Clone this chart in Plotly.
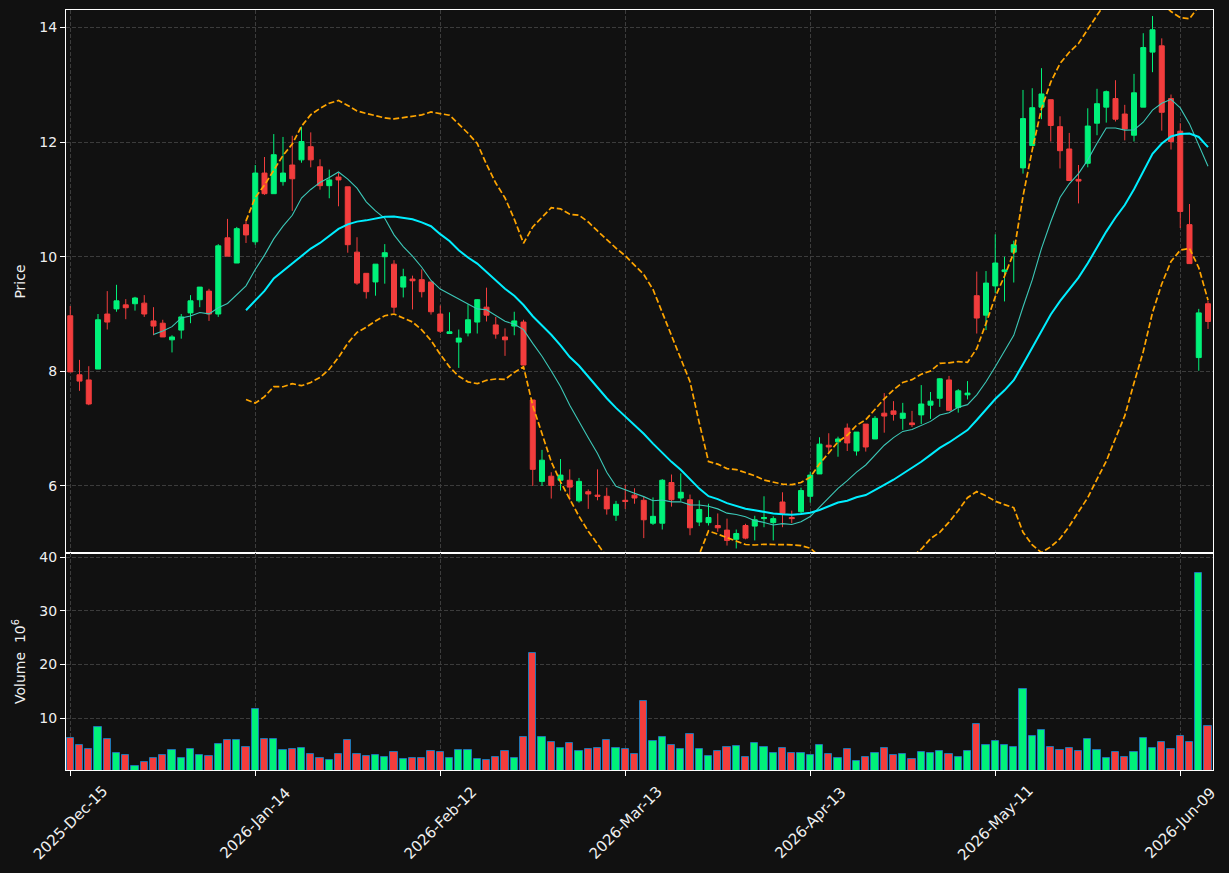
import pandas as pd
import plotly.graph_objects as go

# ---------------- data ----------------
HOLIDAYS = ["2025-12-25", "2026-01-01", "2026-01-19", "2026-02-16", "2026-04-03", "2026-05-25"]
dates = pd.bdate_range("2025-12-15", "2026-06-12", freq="C", holidays=HOLIDAYS)

open_ = [8.97, 7.94, 7.85, 8.04, 9.00, 9.09, 9.16, 9.18, 9.19, 8.88,
         8.84, 8.55, 8.72, 9.02, 9.25, 9.40, 9.00, 10.33, 9.89, 10.56,
         10.26, 11.46, 11.10, 11.31, 11.60, 11.69, 11.92, 11.57, 11.24, 11.39,
         11.22, 10.08, 9.71, 9.56, 10.00, 9.87, 9.47, 9.61, 9.60, 9.56,
         9.00, 8.66, 8.51, 8.67, 8.86, 9.12, 8.81, 8.60, 8.79, 8.86,
         7.50, 6.08, 6.17, 6.10, 6.10, 5.74, 5.90, 5.84, 5.82, 5.49,
         5.75, 5.84, 5.75, 5.35, 5.35, 6.06, 5.79, 5.76, 5.37, 5.36,
         5.31, 5.23, 5.07, 5.31, 5.30, 5.43, 5.36, 5.72, 5.45, 5.55,
         5.82, 6.21, 6.71, 6.77, 7.01, 6.61, 7.08, 6.82, 7.27, 7.31,
         7.18, 7.10, 7.24, 7.41, 7.53, 7.85, 7.37, 7.59, 9.32, 8.98,
         9.49, 9.74, 10.08, 11.55, 11.94, 12.61, 12.74, 12.27, 11.88, 11.35,
         11.63, 12.33, 12.61, 12.76, 12.49, 12.12, 12.61, 13.57, 13.68, 12.76,
         12.19, 10.56, 8.24, 9.18]
high_ = [9.14, 8.20, 8.09, 9.00, 9.40, 9.51, 9.26, 9.30, 9.33, 9.12,
         8.90, 8.63, 9.00, 9.33, 9.47, 9.44, 10.22, 10.66, 10.52, 10.64,
         11.60, 11.74, 12.14, 12.09, 12.11, 12.27, 12.17, 11.70, 11.52, 11.46,
         11.22, 10.34, 9.71, 9.87, 10.22, 9.94, 9.79, 9.67, 9.78, 9.56,
         9.15, 9.03, 8.73, 9.17, 9.26, 9.46, 8.95, 8.75, 9.04, 8.90,
         7.50, 6.63, 6.24, 6.47, 6.29, 6.14, 5.94, 6.29, 5.97, 5.74,
         6.02, 5.96, 5.82, 5.80, 6.12, 6.20, 6.22, 5.85, 5.75, 5.69,
         5.52, 5.43, 5.24, 5.34, 5.48, 5.82, 5.47, 5.89, 5.57, 5.97,
         6.25, 6.85, 6.92, 6.86, 7.09, 6.94, 7.08, 7.22, 7.62, 7.48,
         7.45, 7.31, 7.76, 7.64, 7.88, 7.92, 7.69, 7.83, 9.74, 9.75,
         10.39, 10.00, 10.28, 12.91, 12.94, 13.29, 12.74, 12.45, 12.16, 11.60,
         12.59, 12.93, 12.90, 13.08, 12.65, 13.19, 13.90, 14.20, 13.81, 12.83,
         12.33, 10.92, 9.09, 9.23]
low_ = [7.99, 7.66, 7.41, 8.04, 8.73, 9.04, 8.91, 9.06, 8.95, 8.63,
        8.60, 8.33, 8.57, 8.84, 9.12, 8.88, 8.95, 10.01, 9.89, 10.24,
        10.21, 11.08, 11.10, 11.24, 10.80, 11.64, 11.56, 11.17, 11.02, 10.88,
        10.07, 9.51, 9.27, 9.32, 9.53, 9.02, 9.29, 9.08, 9.29, 8.99,
        8.67, 8.66, 8.06, 8.61, 8.66, 8.87, 8.57, 8.27, 8.63, 8.11,
        6.00, 6.00, 5.78, 5.92, 5.75, 5.71, 5.60, 5.75, 5.50, 5.39,
        5.60, 5.69, 5.09, 5.32, 5.24, 5.64, 5.74, 5.14, 5.30, 5.31,
        5.20, 4.96, 4.91, 5.07, 5.05, 5.28, 5.05, 5.28, 5.35, 5.52,
        5.71, 6.21, 6.58, 6.51, 6.61, 6.53, 6.60, 6.82, 6.93, 7.14,
        6.98, 7.03, 7.08, 7.17, 7.38, 7.32, 7.28, 7.51, 8.66, 8.72,
        9.37, 9.22, 9.55, 11.45, 11.94, 12.40, 12.01, 11.54, 11.33, 10.93,
        11.56, 12.12, 12.34, 12.36, 12.03, 12.01, 12.61, 13.22, 12.20, 11.87,
        10.50, 9.88, 8.01, 8.74]
close_ = [7.99, 7.83, 7.43, 8.90, 8.86, 9.23, 9.11, 9.28, 9.00, 8.79,
          8.60, 8.60, 8.95, 9.23, 9.47, 9.00, 10.19, 10.01, 10.49, 10.38,
          11.46, 11.10, 11.78, 11.46, 11.36, 12.01, 11.69, 11.24, 11.34, 11.34,
          10.21, 9.54, 9.39, 9.87, 10.07, 9.12, 9.65, 9.58, 9.39, 9.04,
          8.70, 8.69, 8.58, 8.90, 9.25, 8.98, 8.65, 8.55, 8.88, 8.11,
          6.29, 6.45, 6.01, 6.19, 5.98, 6.08, 5.86, 5.82, 5.60, 5.68,
          5.73, 5.79, 5.41, 5.47, 6.10, 5.76, 5.89, 5.27, 5.59, 5.45,
          5.27, 5.05, 5.17, 5.09, 5.41, 5.45, 5.43, 5.52, 5.43, 5.92,
          6.19, 6.73, 6.68, 6.82, 6.75, 6.94, 6.68, 7.18, 7.22, 7.25,
          7.27, 7.07, 7.43, 7.48, 7.87, 7.32, 7.66, 7.62, 8.93, 9.54,
          9.89, 9.77, 10.21, 12.41, 12.60, 12.84, 12.29, 11.85, 11.33, 11.32,
          12.28, 12.67, 12.88, 12.40, 12.23, 12.86, 13.65, 13.96, 12.52, 12.01,
          10.79, 9.88, 9.02, 8.87]
volume_m = [6.27, 4.97, 4.22, 8.32, 6.09, 3.48, 3.11, 0.99, 1.80, 2.55,
            3.11, 4.04, 2.55, 4.22, 3.11, 2.92, 5.16, 5.90, 5.90, 4.60,
            11.68, 6.09, 6.09, 4.04, 4.22, 4.41, 3.29, 2.55, 2.17, 3.29,
            5.90, 3.29, 2.92, 3.11, 2.73, 3.66, 2.36, 2.55, 2.55, 3.85,
            3.66, 2.55, 4.04, 4.04, 2.36, 2.17, 2.73, 3.85, 2.55, 6.46,
            22.11, 6.46, 5.53, 4.41, 5.34, 3.85, 4.22, 4.41, 5.90, 4.41,
            4.22, 3.29, 13.17, 5.71, 6.46, 4.97, 4.22, 7.02, 4.22, 2.92,
            3.85, 4.60, 4.78, 2.73, 5.34, 4.60, 3.48, 4.41, 3.48, 3.48,
            3.11, 4.97, 3.29, 2.55, 4.22, 1.99, 2.73, 3.48, 4.41, 3.11,
            3.29, 2.36, 3.66, 3.48, 3.85, 3.29, 2.73, 3.85, 8.88, 4.97,
            5.71, 4.97, 4.60, 15.40, 6.65, 7.76, 4.60, 4.04, 4.41, 3.85,
            6.09, 4.04, 2.55, 3.66, 2.73, 3.66, 6.27, 4.41, 5.53, 4.22,
            6.65, 5.53, 37.02, 8.51]

idx = list(range(len(dates)))
tick_idx = idx[::20]
tick_text = [dates[i].strftime("%Y-%b-%d") for i in tick_idx]

closes = pd.Series(close_)
ma10 = closes.rolling(10).mean()
ma20 = closes.rolling(20).mean()
sd20 = closes.rolling(20).std(ddof=0)
bb_up = ma20 + 2 * sd20
bb_lo = ma20 - 2 * sd20

# ---------------- style ----------------
BG = "#111111"
UP = "#00f27a"
DOWN = "#f23d3d"
GRID = "#3c3c3c"
FONT = dict(family="DejaVu Sans", size=14, color="#f0f0f0")
XFONT = dict(family="DejaVu Sans", size=15, color="#f0f0f0")

vol_colors = [UP if c >= o else DOWN for o, c in zip(open_, close_)]

fig = go.Figure()
fig.add_trace(go.Candlestick(
    x=idx, open=open_, high=high_, low=low_, close=close_,
    increasing=dict(line=dict(color=UP, width=1), fillcolor=UP),
    decreasing=dict(line=dict(color=DOWN, width=1), fillcolor=DOWN),
    whiskerwidth=0, showlegend=False, xaxis="x", yaxis="y"))
fig.add_trace(go.Scatter(x=idx, y=ma10, mode="lines", line=dict(color="#3cc8b8", width=1.1),
                         showlegend=False, xaxis="x", yaxis="y"))
fig.add_trace(go.Scatter(x=idx, y=ma20, mode="lines", line=dict(color="#00eeff", width=2),
                         showlegend=False, xaxis="x", yaxis="y"))
for band in (bb_up, bb_lo):
    fig.add_trace(go.Scatter(x=idx, y=band, mode="lines",
                             line=dict(color="#ffa500", width=1.7, dash="6px,2.6px"),
                             showlegend=False, xaxis="x", yaxis="y"))
fig.add_trace(go.Bar(x=idx, y=volume_m, width=0.8,
                     marker=dict(color=vol_colors, line=dict(color="#1f77b4", width=1)),
                     showlegend=False, xaxis="x2", yaxis="y2"))

XR = [-0.46, 123.54]
SPLIT = 0.2855
axis_common = dict(showline=True, linecolor="white", linewidth=1.2, mirror=True,
                   zeroline=False, gridcolor=GRID, griddash="4px,2px", gridwidth=1,
                   tickcolor="white", tickfont=FONT, automargin=False)

# rotated date labels, centred under each tick (as in the reference)
annotations = [dict(x=i, y=-0.0695, xref="x2", yref="paper", text=t, textangle=-45,
                    showarrow=False, xanchor="center", yanchor="middle", font=XFONT)
               for i, t in zip(tick_idx, tick_text)]

fig.update_layout(
    width=1229, height=873,
    margin=dict(l=66, r=16, t=10, b=103),
    paper_bgcolor=BG, plot_bgcolor=BG,
    font=FONT, hovermode=False,
    boxgap=0.3, boxgroupgap=0.23, bargap=0,
    annotations=annotations,
    xaxis=dict(range=XR, anchor="y", domain=[0, 1], tickvals=tick_idx, showticklabels=False,
               ticks="", rangeslider=dict(visible=False), **axis_common),
    xaxis2=dict(range=XR, anchor="y2", domain=[0, 1], matches="x", tickvals=tick_idx,
                showticklabels=False, ticks="outside", ticklen=5, **axis_common),
    yaxis=dict(domain=[SPLIT, 1], range=[4.83, 14.305], anchor="x", tickvals=[6, 8, 10, 12, 14],
               ticks="outside", ticklen=5,
               title=dict(text="Price", font=FONT, standoff=10), **axis_common),
    yaxis2=dict(domain=[0, SPLIT], range=[0.3, 40.8], anchor="x2", tickvals=[10, 20, 30, 40],
                ticks="outside", ticklen=5,
                title=dict(text="Volume  10<sup>6</sup>", font=FONT, standoff=10), **axis_common),
)

fig.write_html("out.html")
